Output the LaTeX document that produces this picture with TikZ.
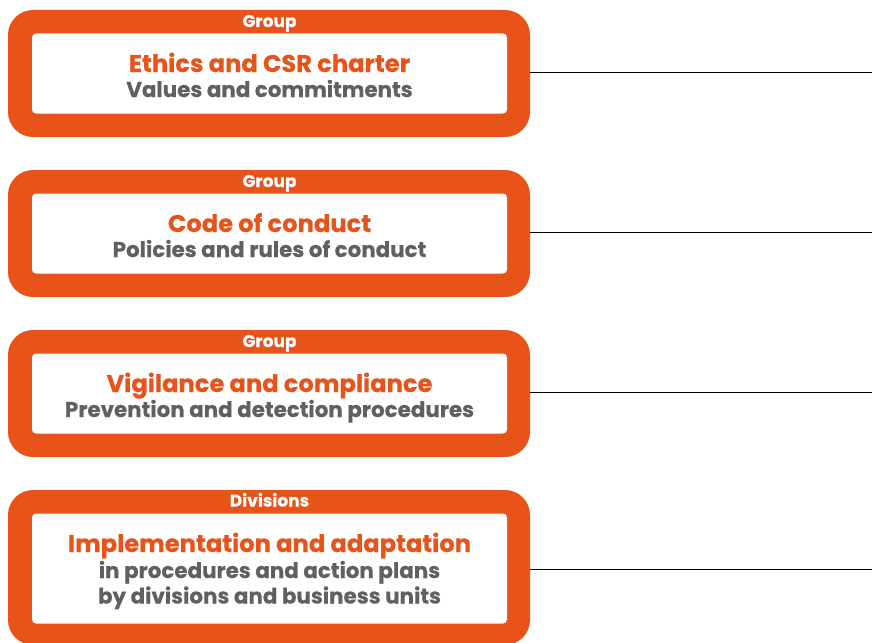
\documentclass[tikz,border=0pt]{standalone}
\usepackage{fontspec}
\setmainfont{Poppins}[BoldFeatures={FakeBold=0.4}]
\definecolor{brand}{HTML}{E8531A}
\definecolor{slate}{HTML}{5F6062}
\begin{document}
\begin{tikzpicture}[x=1pt,y=-1pt,
  frame/.style={fill=brand,draw=none,rounded corners=25pt,inner sep=0pt,
    minimum width=522pt},
  panel/.style={fill=white,draw=none,rounded corners=4pt,inner sep=0pt,
    minimum width=475pt},
  tag/.style={text=white,font=\bfseries\fontsize{17}{20}\selectfont,anchor=base},
  head/.style={text=brand,font=\bfseries\fontsize{24.2}{28}\selectfont,anchor=base},
  sub/.style={text=slate,font=\bfseries\fontsize{21.4}{25}\selectfont,anchor=base},
  link/.style={draw=black,line width=1pt}]
\useasboundingbox (0,0) rectangle (872,642);

% Group-level blocks
\foreach \i/\dy/\t/\s in {1/0/Ethics and CSR charter/Values and commitments,
                           2/160/Code of conduct/Policies and rules of conduct,
                           3/320/Vigilance and compliance/Prevention and detection procedures}{
  \node[frame,minimum height=127pt] (f\i) at (269,73.5+\dy) {};
  \node[panel,minimum height=80pt] (p\i) at (269.5,73.5+\dy) {};
  \node[tag] (g\i) at (269.5,27+\dy) {Group};
  \node[head] (h\i) at (269.5,72+\dy) {\t};
  \node[sub] (s\i) at (269.5,97+\dy) {\s};
  \coordinate (e\i) at (872,72+\dy);
  \draw[link] (f\i.east |- e\i) -- (e\i);
}

% Division-level block
\node[frame,minimum height=155pt] (f4) at (269,567.5) {};
\node[panel,minimum height=110pt] (p4) at (269.5,568.5) {};
\node[tag] (g4) at (269.5,506.5) {Divisions};
\node[head] (h4) at (269.5,552) {Implementation and adaptation};
\node[sub] (s4a) at (269.5,578) {in procedures and action plans};
\node[sub] (s4b) at (269.5,603.5) {by divisions and business units};
\coordinate (e4) at (872,569);
\draw[link] (f4.east |- e4) -- (e4);
\end{tikzpicture}
\end{document}
